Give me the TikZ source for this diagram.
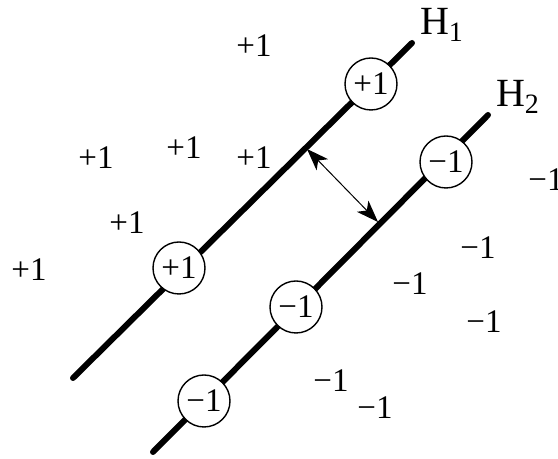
\documentclass[tikz,border=0pt]{standalone}
\usepackage{fontspec}
\setmainfont{Liberation Serif}
\usetikzlibrary{arrows.meta}

\tikzset{
    hyperplane/.style={line width=3pt, line cap=round},
    supportvec/.style={draw, circle, fill=white, line width=0.7pt,
        minimum size=26pt, inner sep=0pt},
    classmark/.style={inner sep=0pt},
    planename/.style={inner sep=0pt, font=\fontsize{20}{24}\selectfont},
}

\begin{document}
\begin{tikzpicture}[x=0.5pt, y=-0.5pt, font=\fontsize{16.5}{19}\selectfont]
\useasboundingbox (0,0) rectangle (558,459);

% --- hyperplanes ---
\coordinate (hAstart) at (73,378);
\coordinate (hAend) at (412,43);
\coordinate (hBstart) at (153,452);
\coordinate (hBend) at (488,115);

\draw [hyperplane] (hAstart) -- (hAend);
\draw [hyperplane] (hBstart) -- (hBend);

\node [planename] (hAlabel) at (442,25) {H\textsubscript{1}};
\node [planename] (hBlabel) at (518,97) {H\textsubscript{2}};

% --- margin ---
\coordinate (margintop) at (307,149);
\coordinate (marginbot) at (378,222);
\draw [{Stealth[length=11pt, width=8pt, inset=3pt]}-{Stealth[length=11pt, width=8pt, inset=3pt]}, line width=0.5pt]
    (margintop) -- (marginbot);

% --- support vectors ---
\node [supportvec] (svAtop) at (371,84) {+1};
\node [supportvec] (svAbot) at (179,268) {+1};
\node [supportvec] (svBtop) at (446,162) {−1};
\node [supportvec] (svBmid) at (296,307) {−1};
\node [supportvec] (svBbot) at (204,401) {−1};

% --- positive samples ---
\node [classmark] (posA) at (254,46) {+1};
\node [classmark] (posB) at (96,158) {+1};
\node [classmark] (posC) at (184,148) {+1};
\node [classmark] (posD) at (254,158) {+1};
\node [classmark] (posE) at (127,223) {+1};
\node [classmark] (posF) at (29,270) {+1};

% --- negative samples ---
\node [classmark] (negA) at (546,180) {−1};
\node [classmark] (negB) at (478,248) {−1};
\node [classmark] (negC) at (410,284) {−1};
\node [classmark] (negD) at (484,322) {−1};
\node [classmark] (negE) at (331,381) {−1};
\node [classmark] (negF) at (375,408) {−1};

\end{tikzpicture}
\end{document}
